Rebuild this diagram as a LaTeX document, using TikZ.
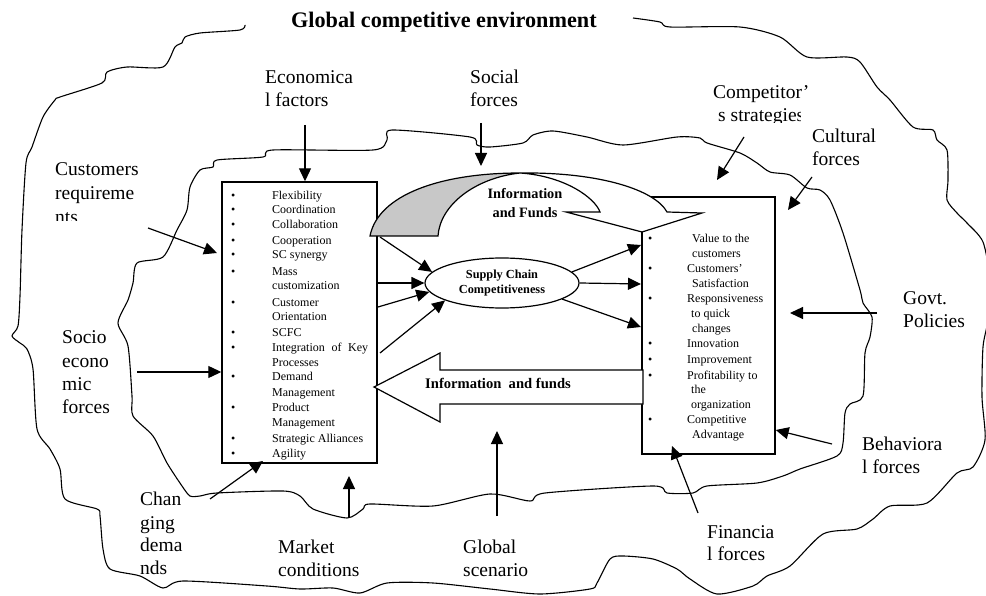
\documentclass[tikz,border=0pt]{standalone}
\usepackage{fontspec}
\setmainfont{Liberation Serif}
\usetikzlibrary{arrows.meta,shapes.geometric}
\definecolor{shade}{RGB}{200,200,200}
\begin{document}
\begin{tikzpicture}[x=1pt,y=-1pt,
  lab/.style={anchor=base west,inner sep=0pt,font=\fontsize{19.5}{23}\selectfont},
  btxt/.style={anchor=base west,inner sep=0pt,font=\fontsize{12}{14}\selectfont},
  arr/.style={-{Triangle[length=13pt,width=12pt]},line width=1.2pt},
  cloud/.style={line width=1.1pt},
  boxs/.style={draw,line width=1.4pt,inner sep=0pt,fill=white}]
\useasboundingbox (0,0) rectangle (986,596);
\fill[white] (0,0) rectangle (986,596);
% outer cloud
\begin{scope}
\clip (0,0) rectangle (986,596);
\draw[cloud] plot[smooth,tension=0.45] coordinates {(245,25) (240,30) (200,33) (185,37) (182,43) (175,47) (163,67) (127,67) (107,72) (102,83) (60,97) (55,100) (43,117) (32,147) (26,163) (22,230) (20,296) (18,326) (12,336) (20,343) (27,349) (33,369) (37,429) (50,449) (60,469) (65,499) (97,509) (100,516) (103,549) (110,569) (140,576) (163,588) (183,581) (267,586) (300,589) (333,588) (360,593) (387,583) (433,583) (490,589) (540,594) (590,589) (597,583) (610,559) (623,556) (653,559) (677,569) (690,579) (717,594) (753,586) (767,576) (790,566) (823,534) (857,529) (873,519) (890,506) (927,503) (957,473) (973,467) (985,440) (982,397) (983,347) (988,320) (990,280) (983,242) (967,223) (957,213) (947,200) (948,180) (947,150) (937,140) (933,130) (913,127) (890,100) (877,87) (860,62) (847,57) (807,57) (780,37) (740,27) (670,27) (660,22) (633,18)};
\end{scope}
% inner cloud
\draw[cloud] plot[smooth cycle,tension=0.45] coordinates {(490,147) (477,145) (470,137) (392,130) (387,140) (373,150) (273,150) (263,157) (217,160) (213,167) (200,170) (190,187) (187,210) (177,230) (163,257) (137,263) (133,283) (128,300) (118,323) (128,346) (132,396) (133,416) (153,436) (167,463) (182,486) (190,496) (200,496) (217,493) (283,491) (300,496) (313,509) (347,518) (363,509) (370,504) (433,506) (490,494) (530,501) (545,493) (653,486) (667,493) (693,493) (707,486) (757,483) (783,476) (800,469) (837,456) (843,443) (845,413) (850,404) (863,396) (865,353) (870,337) (872,317) (863,303) (860,290) (843,233) (830,200) (820,190) (807,188) (790,175) (770,172) (757,163) (740,153) (707,143) (700,138) (677,137) (623,145) (587,137) (553,131) (533,135) (523,143)};
% title
\node[anchor=base west,inner sep=0pt,font=\bfseries\fontsize{22.2}{26}\selectfont] (title) at (291,28) {Global competitive environment};
% boxes
\node[boxs,minimum width=155pt,minimum height=281pt] (lbox) at (299.5,322.5) {};
\node[boxs,minimum width=133pt,minimum height=257pt] (rbox) at (708.5,325.5) {};
% left box text
\foreach \t/\y/\b [count=\i] in {Flexibility/200/1,Coordination/214/1,Collaboration/229/1,Cooperation/245/1,SC synergy/259/1,Mass/276/1,customization/290/0,Customer/306/1,Orientation/320/0,SCFC/336/1,{\makebox[96pt][s]{Integration of Key}}/351/1,Processes/366/0,Demand/381/1,Management/396/0,Product/411/1,Management/426/0,Strategic Alliances/442/1,Agility/457/1}{
  \node[btxt] (L\i) at (272,\y) {\t};
  \ifnum\b=1 \node[btxt] (LB\i) at (231,\y) {\textbullet}; \fi
}
% right box text
\foreach \t/\x/\y/\b [count=\i] in {Value to the/692/243/1,customers/692/258/0,Customers’/687/273/1,Satisfaction/692/288/0,Responsiveness/687/303/1,to quick/691/318/0,changes/692/333/0,Innovation/687/348/1,Improvement/687/363/1,Profitability to/687/379/1,the/691/393/0,organization/691/408/0,Competitive/687/423/1,Advantage/692/438/0}{
  \node[btxt] (R\i) at (\x,\y) {\t};
  \ifnum\b=1 \node[btxt] (RB\i) at (648,\y) {\textbullet}; \fi
}
% curved arrow (Information and Funds)
\filldraw[fill=shade,line width=1.2pt] (370,236) .. controls (378,195) and (440,173) .. (520,173) .. controls (475,178) and (440,205) .. (438,236) -- cycle;
\filldraw[fill=white,line width=1.2pt] (520,173) .. controls (600,172) and (655,190) .. (667,212) -- (702,213) -- (642,232) -- (566,212) -- (600,212) .. controls (595,198) and (565,176) .. (520,173);
\node[font=\bfseries\fontsize{14.3}{19}\selectfont,align=center,inner sep=0pt] (info1) at (525,203) {Information\\and Funds};
% big left arrow
\filldraw[fill=white,line width=1.2pt] (374,387) -- (440,353) -- (440,370) -- (643,370) -- (643,404) -- (440,404) -- (440,422) -- cycle;
\node[anchor=base west,inner sep=0pt,font=\bfseries\fontsize{14.6}{17}\selectfont] (info2) at (425,388) {Information\ \ and funds};
% ellipse
\node[ellipse,draw,line width=1.2pt,minimum width=154pt,minimum height=50pt,inner sep=0pt,align=center,font=\bfseries\fontsize{12.3}{15}\selectfont] (scc) at (502,283) {Supply Chain\\Competitiveness};
% box -> ellipse
\coordinate (e1) at (380,237);
\coordinate (e2) at (378,283);
\coordinate (e3) at (378,307);
\coordinate (e4) at (380,353);
\draw[arr] (e1) -- (scc.171);
\draw[arr] (e2) -- (scc.180);
\draw[arr] (e3) -- (scc.187);
\draw[arr] (e4) -- (scc.197);
\coordinate (r1) at (641,245);
\coordinate (r2) at (641,284);
\coordinate (r3) at (641,327);
\draw[arr] (scc.9) -- (r1);
\draw[arr] (scc.0) -- (r2);
\draw[arr] (scc.345) -- (r3);
% labels
\node[lab] (eco1) at (265,84) {Economica};
\node[lab] (eco2) at (265,107) {l factors};
\node[lab] (soc1) at (470,84) {Social};
\node[lab] (soc2) at (470,107) {forces};
\node[lab] (cus1) at (55,176) {Customers};
\node[lab] (cus2) at (55,200) {requireme};
\begin{scope}
\clip (40,150) rectangle (200,220.5);
\node[lab] (cus3) at (55,224) {nts};
\end{scope}
\node[lab] (comp1) at (713,99) {Competitor’};
\begin{scope}
\clip (700,100) rectangle (800,122.5);
\node[lab] (comp2) at (718,122) {s strategies};
\end{scope}
\node[lab] (cult1) at (812,143) {Cultural};
\node[lab] (cult2) at (812,166) {forces};
\node[lab] (govt1) at (903,305) {Govt.};
\node[lab] (govt2) at (903,327) {Policies};
\node[lab] (beh1) at (862,450) {Behaviora};
\node[lab] (beh2) at (862,473) {l forces};
\node[lab] (fin1) at (707,538) {Financia};
\node[lab] (fin2) at (707,560) {l forces};
\node[lab] (glob1) at (463,553) {Global};
\node[lab] (glob2) at (463,576) {scenario};
\node[lab] (mkt1) at (278,553) {Market};
\node[lab] (mkt2) at (278,576) {conditions};
\node[lab] (chg1) at (140,505) {Chan};
\node[lab] (chg2) at (140,529) {ging};
\node[lab] (chg3) at (140,551) {dema};
\node[lab] (chg4) at (140,574) {nds};
\node[lab] (so1) at (62,344) {Socio};
\node[lab] (so2) at (62,367) {econo};
\node[lab] (so3) at (62,390) {mic};
\node[lab] (so4) at (62,413) {forces};
% external arrows
\coordinate (aEco) at (305,125);
\coordinate (aSoc) at (481,123);
\coordinate (aCus) at (148,228);
\coordinate (tCus) at (217,253);
\coordinate (aComp) at (744,137);
\coordinate (tComp) at (717,180);
\coordinate (aCult) at (812,177);
\coordinate (tCult) at (788,210);
\coordinate (aGovt) at (877,313);
\coordinate (aBeh) at (832,444);
\coordinate (aFin) at (698,513);
\coordinate (tFin) at (672,446);
\coordinate (aGlob) at (497,516);
\coordinate (tGlob) at (497,431);
\coordinate (aMkt) at (349,518);
\coordinate (tMkt) at (349,476);
\coordinate (aChg) at (210,499);
\coordinate (tChg) at (263,461);
\coordinate (aSocio) at (137,372);
\coordinate (tSoc) at (481,166);
\draw[arr] (aEco) -- (aEco |- lbox.north);
\draw[arr] (aSoc) -- (tSoc);
\draw[arr] (aCus) -- (tCus);
\draw[arr] (aComp) -- (tComp);
\draw[arr] (aCult) -- (tCult);
\draw[arr] (aGovt) -- (790,313);
\draw[arr] (aBeh) -- (rbox.east |- 0,430);
\draw[arr] (aFin) -- (tFin);
\draw[arr] (aGlob) -- (tGlob);
\draw[arr] (aMkt) -- (tMkt);
\draw[arr] (aChg) -- (tChg);
\draw[arr] (aSocio) -- (lbox.west |- aSocio);
\end{tikzpicture}
\end{document}
